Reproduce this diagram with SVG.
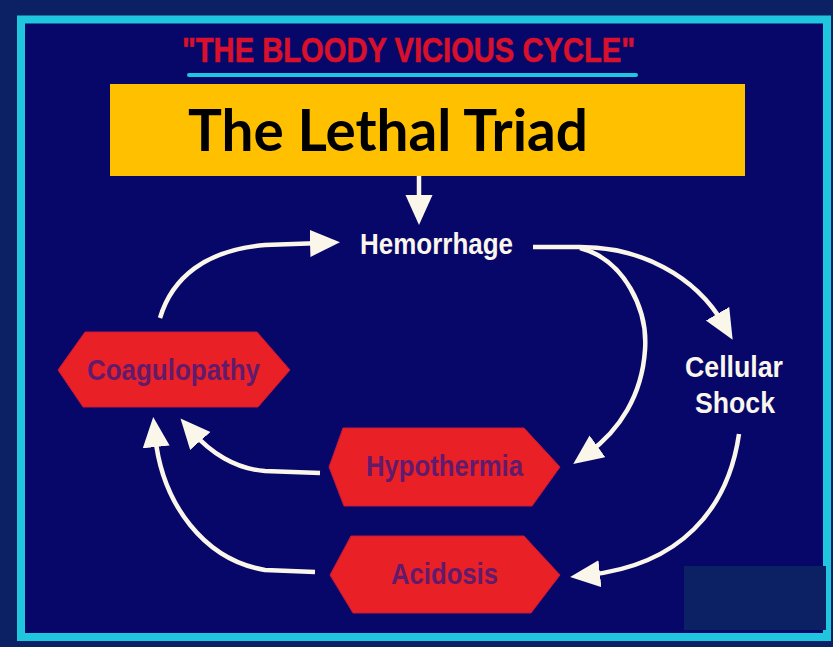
<svg xmlns="http://www.w3.org/2000/svg" width="833" height="647" viewBox="0 0 833 647">
<style>
.hex{fill:#ea2027;stroke:#c81838;stroke-width:1}
.ntxt{font-family:"Liberation Sans",Arial,sans-serif;font-weight:bold;font-size:29px;fill:#621b6c}
.wtxt{font-family:"Liberation Sans",Arial,sans-serif;font-weight:bold;font-size:29px;fill:#fbf6ea}
.conn{fill:none;stroke:#fbf6ea;stroke-width:4.5}
</style>
<defs>
<marker id="ah" markerUnits="userSpaceOnUse" markerWidth="32" markerHeight="30" refX="12" refY="13.5" orient="auto">
<path d="M0,0 L30,13.5 L0,27 Z" fill="#fbf6ea"/>
</marker>
</defs>
<rect x="0" y="0" width="833" height="647" fill="#0b2163"/>
<rect x="21" y="19.5" width="806" height="617.5" fill="#07076a" stroke="#1fc6de" stroke-width="8"/>
<rect x="684" y="566" width="142" height="64" fill="#0b2163"/>
<g id="title">
<text x="182" y="62" font-family="'Liberation Sans',Arial,sans-serif" font-weight="bold" font-size="35" fill="#d8102c" stroke="#d8102c" stroke-width="0.6" textLength="453" lengthAdjust="spacingAndGlyphs">"THE BLOODY VICIOUS CYCLE"</text>
<line x1="189" y1="75" x2="636" y2="75" stroke="#1fc6de" stroke-width="4" stroke-linecap="round"/>
</g>
<g id="banner">
<rect x="110" y="84" width="635" height="92" fill="#ffc000"/>
<text x="188" y="151" font-family="Lato,'Open Sans',sans-serif" font-weight="bold" font-size="57" fill="#000" textLength="400" lengthAdjust="spacingAndGlyphs">The Lethal Triad</text>
</g>
<g id="connectors">
<path class="conn" marker-end="url(#ah)" d="M419,176 L419,207"/>
<path class="conn" marker-end="url(#ah)" d="M160,318 C172,278 205,250 265,245 L322,243"/>
<path class="conn" marker-end="url(#ah)" d="M533,247 L580,247 C640,247 695,275 723.6,324.1"/>
<path class="conn" marker-end="url(#ah)" d="M580,248 C625,260 648,310 645,350 C642,395 620,430 587.8,453.4"/>
<path class="conn" marker-end="url(#ah)" d="M739,434 C728,510 680,565 588,575"/>
<path class="conn" marker-end="url(#ah)" d="M320,473 L265,471 C235,469 210,452 192.4,432"/>
<path class="conn" marker-end="url(#ah)" d="M315,572 L265,570 C205,560 162,505 155,435"/>
</g>
<g id="hemorrhage">
<text class="wtxt" x="360" y="254" textLength="153" lengthAdjust="spacingAndGlyphs">Hemorrhage</text>
</g>
<g id="cellular-shock">
<text class="wtxt" x="685" y="377" textLength="98" lengthAdjust="spacingAndGlyphs">Cellular</text>
<text class="wtxt" x="695" y="413" textLength="80" lengthAdjust="spacingAndGlyphs">Shock</text>
</g>
<g id="coagulopathy">
<polygon class="hex" points="58,370 85,332 257,332 290,370 258,407 83,407"/>
<text class="ntxt" x="87" y="380" textLength="173" lengthAdjust="spacingAndGlyphs">Coagulopathy</text>
</g>
<g id="hypothermia">
<polygon class="hex" points="329,467 343,428 524,428 560,467 532,506 344,506"/>
<text class="ntxt" x="366" y="476" textLength="157" lengthAdjust="spacingAndGlyphs">Hypothermia</text>
</g>
<g id="acidosis">
<polygon class="hex" points="330,575 351,536 524,536 560,575 531,613 353,613"/>
<text class="ntxt" x="391" y="584" textLength="107" lengthAdjust="spacingAndGlyphs">Acidosis</text>
</g>
</svg>
